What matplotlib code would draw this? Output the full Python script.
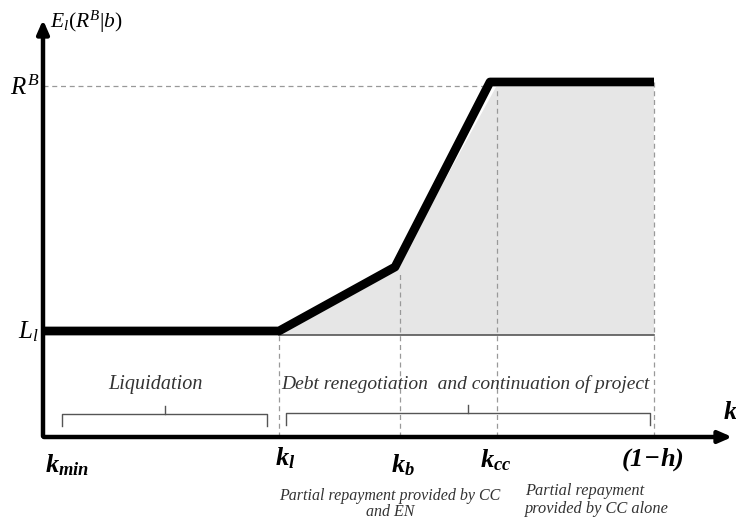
import numpy as np
import matplotlib.pyplot as plt
from matplotlib.patches import Polygon

plt.rcParams['mathtext.fontset'] = 'custom'
plt.rcParams['mathtext.rm'] = 'Liberation Serif'
plt.rcParams['mathtext.it'] = 'Liberation Serif:italic'
plt.rcParams['mathtext.bf'] = 'Liberation Serif:italic:bold'
plt.rcParams['font.family'] = 'Liberation Serif'

# positions on the k axis
k_min = 0.0
k_l = 2.36
k_b = 3.57
k_cc = 4.54
k_top = 6.11  # (1-h)
kink_x = 3.52
corner_x = 4.47
# levels on the vertical axis
L_l = 1.06
L_fill = 1.02
kink_y = 1.70
R_B = 3.55
R_dash = 3.51

curve_x = [k_min, k_l, kink_x, corner_x, k_top]
curve_y = [L_l, L_l, kink_y, R_B, R_B]

tick_pos = [k_min, k_l, k_b, k_cc, k_top]
tick_lab = [r'$\mathbf{k_{min}}$', r'$\mathbf{k_l}$', r'$\mathbf{k_b}$',
            r'$\mathbf{k_{cc}}$', r'$\mathbf{(1\!-\!h)}$']

fig = plt.figure(figsize=(7.36, 5.29), dpi=100)
ax = fig.add_axes([0, 0, 1, 1])
ax.set_xlim(-0.43, 6.93)
ax.set_ylim(-0.92, 4.37)
ax.axis('off')

# shaded region
poly = Polygon([(k_l, L_fill), (kink_x, kink_y - 0.04), (corner_x + 0.06, R_B - 0.05),
                (k_top, R_B - 0.05), (k_top, L_fill)],
               closed=True, facecolor='#e6e6e6', edgecolor='none', zorder=1)
ax.add_patch(poly)
ax.plot([k_l, k_top], [L_fill, L_fill], color='#555555', lw=1.2, zorder=2)

# dashed guides
dash = dict(color='#999999', lw=0.9, ls=(0, (4, 3)), zorder=2)
ax.plot([k_min, corner_x], [R_dash, R_dash], **dash)
ax.plot([k_l, k_l], [0, L_fill], **dash)
ax.plot([k_b, k_b], [0, kink_y - 0.05], **dash)
ax.plot([k_cc, k_cc], [0, R_B - 0.05], **dash)
ax.plot([k_top, k_top], [0, R_B], **dash)

# main curve
ax.plot(curve_x, curve_y, color='black', lw=6.3, solid_joinstyle='round',
        solid_capstyle='butt', zorder=4)

# axes with arrows
ax.annotate('', xy=(6.92, 0), xytext=(-0.02, 0),
            arrowprops=dict(arrowstyle='-|>,head_length=0.8,head_width=0.35',
                            color='black', lw=3.2), zorder=5)
ax.annotate('', xy=(0, 4.2), xytext=(0, -0.02),
            arrowprops=dict(arrowstyle='-|>,head_length=0.8,head_width=0.35',
                            color='black', lw=3.2), zorder=5)

# tick labels
offs = [(0.24, -0.28), (0.06, -0.21), (0.03, -0.28), (-0.01, -0.23), (-0.02, -0.23)]
for p, lab, (dx, dy) in zip(tick_pos, tick_lab, offs):
    ax.text(p + dx, dy, lab, fontsize=19, ha='center', va='center')
ax.text(6.87, 0.24, r'$\mathbf{k}$', fontsize=19, ha='center', va='center')

# vertical labels
ax.text(0.07, 4.15, r'$E_l(R^B|b)$', fontsize=15.5, ha='left', va='center')
ax.text(-0.18, 3.49, r'$R^B$', fontsize=18, ha='center', va='center')
ax.text(-0.15, 1.05, r'$L_l$', fontsize=18, ha='center', va='center')


def brace(x0, x1, y, h=0.12, tip=0.08):
    xm = (x0 + x1) / 2
    ax.plot([x0, x0, x1, x1], [y - h, y, y, y - h], color='#555555', lw=1)
    ax.plot([xm, xm], [y, y + tip], color='#555555', lw=1)


brace(0.19, 2.24, 0.23)
brace(2.43, 6.07, 0.24)
ax.text(1.12, 0.53, 'Liquidation', fontsize=14.5, style='italic', ha='center', va='center',
        color='#333333')
ax.text(4.22, 0.53, 'Debt renegotiation  and continuation of project', fontsize=14,
        style='italic', ha='center', va='center', color='#333333')

ax.text(3.47, -0.67, 'Partial repayment provided by CC\nand EN', fontsize=11.5,
        style='italic', ha='center', va='center', linespacing=1.05, color='#333333')
ax.text(4.82, -0.63, 'Partial repayment\nprovided by CC alone', fontsize=11.8,
        style='italic', ha='left', va='center', linespacing=1.1, color='#333333')

fig.savefig('out.png', dpi=100)
